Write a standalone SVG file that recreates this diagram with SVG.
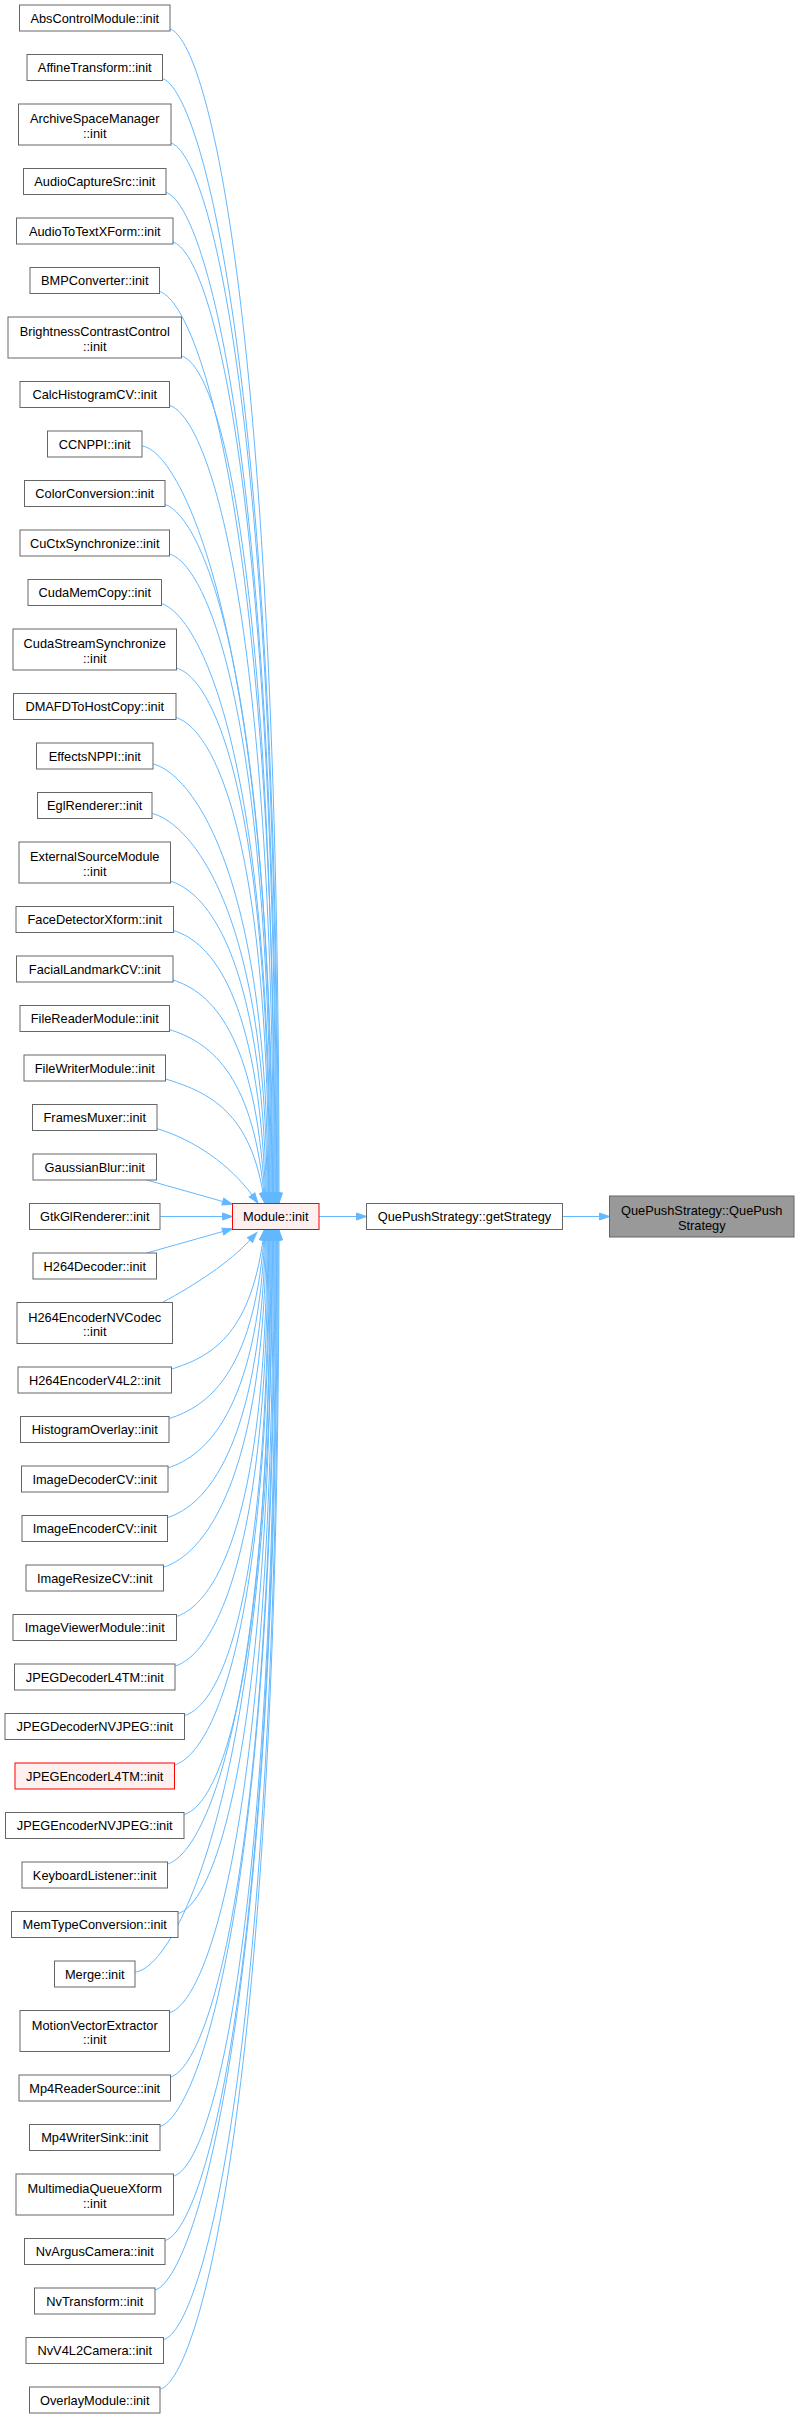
<svg xmlns="http://www.w3.org/2000/svg" width="799" height="2418" viewBox="0 0 799 2418">
<style>
rect{stroke-width:1}
.n rect{fill:#ffffff;stroke:#666666}
.r rect{fill:#fff0f0;stroke:#ff0000}
.g rect{fill:#999999;stroke:#666666}
text{font-family:"Liberation Sans",Arial,Helvetica,sans-serif;font-size:12.8px;text-anchor:middle;fill:#000000}
.e path{fill:none;stroke:#63b8ff;stroke-width:1;marker-end:url(#ah)}
</style>
<defs>
<marker id="ah" markerUnits="userSpaceOnUse" markerWidth="12" markerHeight="9" refX="0" refY="3.5" orient="auto" overflow="visible">
<path d="M0,0 L10,3.5 L0,7 Z" fill="#63b8ff" stroke="#63b8ff" stroke-width="1"/>
</marker>
</defs>
<rect width="799" height="2418" fill="#ffffff"/>
<g id="edges" class="e">
<path d="M170,29 C208,41 279,320 279,1193"/>
<path d="M162.3,78.5 C200.3,90.5 278.2,357.1 278.2,1193"/>
<path d="M171,143 C209,155 277.4,405.5 277.4,1193"/>
<path d="M166,192.5 C204,204.5 276.6,442.6 276.6,1193"/>
<path d="M173,242 C211,254 275.8,479.8 275.8,1193"/>
<path d="M159.7,291.5 C197.7,303.5 275,516.9 275,1193"/>
<path d="M181.7,356 C219.7,368 274.2,565.3 274.2,1193"/>
<path d="M169.7,405.5 C207.7,417.5 273.4,602.4 273.4,1193"/>
<path d="M142.3,446 C182,452 272.6,632.8 272.6,1193"/>
<path d="M165,504.5 C203,516.5 271.8,676.6 271.8,1193"/>
<path d="M169.7,554 C207.7,566 271,713.8 271,1193"/>
<path d="M161.3,603.5 C199.3,615.5 270.2,750.9 270.2,1193"/>
<path d="M176.7,668 C214.7,680 269.4,799.3 269.4,1193"/>
<path d="M176,717.5 C214,729.5 268.6,836.4 268.6,1193"/>
<path d="M153.3,764 C191.3,774 267.8,871.3 267.8,1193"/>
<path d="M152.3,813.5 C190.3,823.5 266,908.4 267,1193"/>
<path d="M170.3,881 C208.3,893 261.8,959 266.2,1193"/>
<path d="M173.7,930.5 C211.7,942.5 258.5,996.1 265.4,1193"/>
<path d="M173,980 C211,992 255.2,1033.3 264.6,1193"/>
<path d="M169.3,1029.5 C207.3,1041.5 252,1070.4 263.8,1193"/>
<path d="M165.7,1079 C203.7,1091 248.7,1107.5 263,1193"/>
<path d="M156.7,1128.5 C195,1140 230,1165 252,1195"/>
<path d="M146.7,1180 C175,1188 200,1195 222.8,1201.5"/>
<path d="M160.3,1216.5 L222.5,1216.5"/>
<path d="M146.7,1253 C175,1245 200,1238 222.8,1231.5"/>
<path d="M162.3,1302.5 C195,1285 230,1262 250,1240"/>
<path d="M171.7,1369 C209.7,1357 249.5,1336.75 263,1240"/>
<path d="M169.3,1418.5 C207.3,1406.5 252.7,1373.9 263.8,1240"/>
<path d="M167.7,1468 C205.7,1456 256,1411 264.6,1240"/>
<path d="M167.7,1517.5 C205.7,1505.5 259.3,1448.1 265.4,1240"/>
<path d="M164,1567 C202,1555 262.55,1485.25 266.2,1240"/>
<path d="M176.3,1616.5 C214.3,1604.5 265.8,1522.4 267,1240"/>
<path d="M175.3,1666 C213.3,1654 267.8,1559.5 267.8,1240"/>
<path d="M184.7,1715.5 C222.7,1703.5 268.6,1596.6 268.6,1240"/>
<path d="M174.7,1765 C212.7,1753 269.4,1633.75 269.4,1240"/>
<path d="M184.3,1814.5 C222.3,1802.5 270.2,1670.9 270.2,1240"/>
<path d="M167.7,1864 C205.7,1852 271,1708 271,1240"/>
<path d="M178.3,1913.5 C216.3,1901.5 271.8,1745.1 271.8,1240"/>
<path d="M135.3,1972 C175,1968 272.6,1789 272.6,1240"/>
<path d="M170,2012.5 C208,2000.5 273.4,1819.4 273.4,1240"/>
<path d="M170.7,2077 C208.7,2065 274.2,1867.75 274.2,1240"/>
<path d="M160,2126.5 C198,2114.5 275,1904.9 275,1240"/>
<path d="M174,2176 C212,2164 275.8,1942 275.8,1240"/>
<path d="M165.3,2240.5 C203.3,2228.5 276.6,1990.4 276.6,1240"/>
<path d="M155.3,2290 C193.3,2278 277.4,2027.5 277.4,1240"/>
<path d="M164,2339.5 C202,2327.5 278.2,2064.6 278.2,1240"/>
<path d="M160.7,2389 C198.7,2377 279,2101.75 279,1240"/>
<path d="M319,1216.5 L356.5,1216.5"/>
<path d="M562.5,1216.5 L599.5,1216.5"/>
</g>
<g id="n1" class="n"><rect x="19.5" y="5" width="150.5" height="26"/><text x="94.75" y="22.5">AbsControlModule::init</text></g>
<g id="n2" class="n"><rect x="27" y="54.5" width="135.5" height="26"/><text x="94.75" y="72">AffineTransform::init</text></g>
<g id="n3" class="n"><rect x="18.5" y="104" width="152.5" height="41"/><text x="94.75" y="123.3">ArchiveSpaceManager</text><text x="94.75" y="137.5">::init</text></g>
<g id="n4" class="n"><rect x="23.5" y="168.5" width="142.5" height="26"/><text x="94.75" y="186">AudioCaptureSrc::init</text></g>
<g id="n5" class="n"><rect x="16.5" y="218" width="156.5" height="26"/><text x="94.75" y="235.5">AudioToTextXForm::init</text></g>
<g id="n6" class="n"><rect x="30" y="267.5" width="129.5" height="26"/><text x="94.75" y="285">BMPConverter::init</text></g>
<g id="n7" class="n"><rect x="8" y="317" width="173.5" height="41"/><text x="94.75" y="336.3">BrightnessContrastControl</text><text x="94.75" y="350.5">::init</text></g>
<g id="n8" class="n"><rect x="20" y="381.5" width="149.5" height="26"/><text x="94.75" y="399">CalcHistogramCV::init</text></g>
<g id="n9" class="n"><rect x="47.5" y="431" width="94.5" height="26"/><text x="94.75" y="448.5">CCNPPI::init</text></g>
<g id="n10" class="n"><rect x="24.5" y="480.5" width="140.5" height="26"/><text x="94.75" y="498">ColorConversion::init</text></g>
<g id="n11" class="n"><rect x="20" y="530" width="149.5" height="26"/><text x="94.75" y="547.5">CuCtxSynchronize::init</text></g>
<g id="n12" class="n"><rect x="28" y="579.5" width="133.5" height="26"/><text x="94.75" y="597">CudaMemCopy::init</text></g>
<g id="n13" class="n"><rect x="13" y="629" width="163.5" height="41"/><text x="94.75" y="648.3">CudaStreamSynchronize</text><text x="94.75" y="662.5">::init</text></g>
<g id="n14" class="n"><rect x="13.5" y="693.5" width="162.5" height="26"/><text x="94.75" y="711">DMAFDToHostCopy::init</text></g>
<g id="n15" class="n"><rect x="36.5" y="743" width="116.5" height="26"/><text x="94.75" y="760.5">EffectsNPPI::init</text></g>
<g id="n16" class="n"><rect x="37.5" y="792.5" width="114.5" height="26"/><text x="94.75" y="810">EglRenderer::init</text></g>
<g id="n17" class="n"><rect x="19" y="842" width="151.5" height="41"/><text x="94.75" y="861.3">ExternalSourceModule</text><text x="94.75" y="875.5">::init</text></g>
<g id="n18" class="n"><rect x="16" y="906.5" width="157.5" height="26"/><text x="94.75" y="924">FaceDetectorXform::init</text></g>
<g id="n19" class="n"><rect x="16.5" y="956" width="156.5" height="26"/><text x="94.75" y="973.5">FacialLandmarkCV::init</text></g>
<g id="n20" class="n"><rect x="20" y="1005.5" width="149.5" height="26"/><text x="94.75" y="1023">FileReaderModule::init</text></g>
<g id="n21" class="n"><rect x="24" y="1055" width="141.5" height="26"/><text x="94.75" y="1072.5">FileWriterModule::init</text></g>
<g id="n22" class="n"><rect x="32.5" y="1104.5" width="124.5" height="26"/><text x="94.75" y="1122">FramesMuxer::init</text></g>
<g id="n23" class="n"><rect x="33" y="1154" width="123.5" height="26"/><text x="94.75" y="1171.5">GaussianBlur::init</text></g>
<g id="n24" class="n"><rect x="29.5" y="1203.5" width="130.5" height="26"/><text x="94.75" y="1221">GtkGlRenderer::init</text></g>
<g id="n25" class="n"><rect x="33" y="1253" width="123.5" height="26"/><text x="94.75" y="1270.5">H264Decoder::init</text></g>
<g id="n26" class="n"><rect x="17" y="1302.5" width="155.5" height="41"/><text x="94.75" y="1321.8">H264EncoderNVCodec</text><text x="94.75" y="1336">::init</text></g>
<g id="n27" class="n"><rect x="18" y="1367" width="153.5" height="26"/><text x="94.75" y="1384.5">H264EncoderV4L2::init</text></g>
<g id="n28" class="n"><rect x="20.5" y="1416.5" width="148.5" height="26"/><text x="94.75" y="1434">HistogramOverlay::init</text></g>
<g id="n29" class="n"><rect x="21.5" y="1466" width="146.5" height="26"/><text x="94.75" y="1483.5">ImageDecoderCV::init</text></g>
<g id="n30" class="n"><rect x="22" y="1515.5" width="145.5" height="26"/><text x="94.75" y="1533">ImageEncoderCV::init</text></g>
<g id="n31" class="n"><rect x="26" y="1565" width="137.5" height="26"/><text x="94.75" y="1582.5">ImageResizeCV::init</text></g>
<g id="n32" class="n"><rect x="13" y="1614.5" width="163.5" height="26"/><text x="94.75" y="1632">ImageViewerModule::init</text></g>
<g id="n33" class="n"><rect x="14.5" y="1664" width="160.5" height="26"/><text x="94.75" y="1681.5">JPEGDecoderL4TM::init</text></g>
<g id="n34" class="n"><rect x="5" y="1713.5" width="179.5" height="26"/><text x="94.75" y="1731">JPEGDecoderNVJPEG::init</text></g>
<g id="n35" class="r"><rect x="15" y="1763" width="159.5" height="26"/><text x="94.75" y="1780.5">JPEGEncoderL4TM::init</text></g>
<g id="n36" class="n"><rect x="5.5" y="1812.5" width="178.5" height="26"/><text x="94.75" y="1830">JPEGEncoderNVJPEG::init</text></g>
<g id="n37" class="n"><rect x="22" y="1862" width="145.5" height="26"/><text x="94.75" y="1879.5">KeyboardListener::init</text></g>
<g id="n38" class="n"><rect x="11.5" y="1911.5" width="166.5" height="26"/><text x="94.75" y="1929">MemTypeConversion::init</text></g>
<g id="n39" class="n"><rect x="54.5" y="1961" width="80.5" height="26"/><text x="94.75" y="1978.5">Merge::init</text></g>
<g id="n40" class="n"><rect x="20" y="2010.5" width="149.5" height="41"/><text x="94.75" y="2029.8">MotionVectorExtractor</text><text x="94.75" y="2044">::init</text></g>
<g id="n41" class="n"><rect x="19" y="2075" width="151.5" height="26"/><text x="94.75" y="2092.5">Mp4ReaderSource::init</text></g>
<g id="n42" class="n"><rect x="29.5" y="2124.5" width="130.5" height="26"/><text x="94.75" y="2142">Mp4WriterSink::init</text></g>
<g id="n43" class="n"><rect x="16" y="2174" width="157.5" height="41"/><text x="94.75" y="2193.3">MultimediaQueueXform</text><text x="94.75" y="2207.5">::init</text></g>
<g id="n44" class="n"><rect x="24.5" y="2238.5" width="140.5" height="26"/><text x="94.75" y="2256">NvArgusCamera::init</text></g>
<g id="n45" class="n"><rect x="34.5" y="2288" width="120.5" height="26"/><text x="94.75" y="2305.5">NvTransform::init</text></g>
<g id="n46" class="n"><rect x="26" y="2337.5" width="137.5" height="26"/><text x="94.75" y="2355">NvV4L2Camera::init</text></g>
<g id="n47" class="n"><rect x="29.5" y="2387" width="130.5" height="26"/><text x="94.75" y="2404.5">OverlayModule::init</text></g>
<g id="module_init" class="r"><rect x="232.5" y="1203.5" width="86.5" height="26"/><text x="275.75" y="1221">Module::init</text></g>
<g id="getStrategy" class="n"><rect x="366.5" y="1203.5" width="196" height="26"/><text x="464.5" y="1221">QuePushStrategy::getStrategy</text></g>
<g id="quepush" class="g"><rect x="609.5" y="1196" width="184.5" height="41"/><text x="701.75" y="1215.3">QuePushStrategy::QuePush</text><text x="701.75" y="1229.5">Strategy</text></g>
</svg>
